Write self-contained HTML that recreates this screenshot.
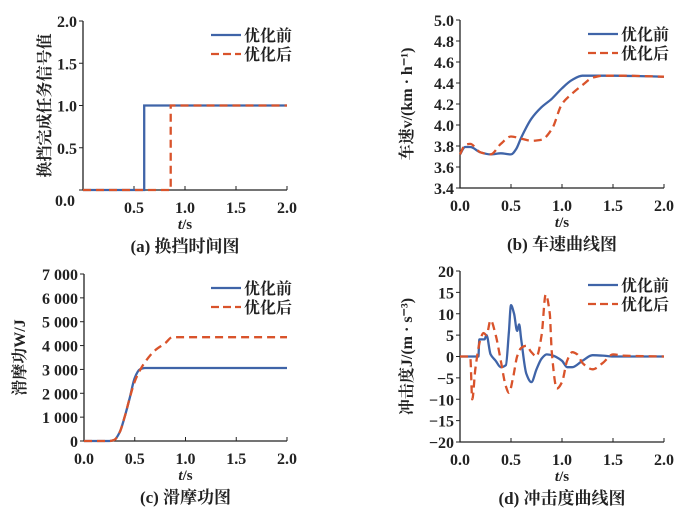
<!DOCTYPE html>
<html><head><meta charset="utf-8"><style>
body{margin:0;background:#fff}
svg{display:block;font-family:"Liberation Serif","Noto Serif CJK SC",serif}
</style></head><body>
<svg id="c" width="700" height="519" viewBox="0 0 700 519"></svg>
<script>
// (a) shift signal
const tA=[0,0.6,0.6,2.0];
const blueA=[0,0,1,1];
const tA2=[0,0.86,0.86,2.0];
const redA=[0,0,1,1];
// (b) vehicle speed
const tB=[0,0.05,0.1,0.2,0.3,0.4,0.5,0.55,0.6,0.7,0.8,0.9,1.0,1.1,1.2,1.3,1.5,2.0];
const blueB=[3.72,3.79,3.79,3.74,3.72,3.73,3.72,3.77,3.88,4.06,4.17,4.25,4.35,4.43,4.47,4.47,4.47,4.46];
const tB2=[0,0.05,0.1,0.2,0.3,0.4,0.5,0.6,0.7,0.8,0.9,1.0,1.1,1.2,1.3,1.4,1.6,2.0];
const redB=[3.72,3.81,3.82,3.74,3.72,3.82,3.89,3.87,3.85,3.86,3.96,4.20,4.30,4.38,4.45,4.47,4.47,4.46];
// (c) friction work
const tC=[0,0.25,0.3,0.35,0.4,0.45,0.5,0.55,0.6,2.0];
const blueC=[0,0,50,350,1000,1800,2650,3000,3060,3060];
const tC2=[0,0.25,0.3,0.35,0.4,0.45,0.5,0.55,0.6,0.7,0.8,0.87,2.0];
const redC=[0,0,50,350,1000,1800,2500,2950,3300,3800,4100,4350,4350];
// (d) jerk
const tD=[0,0.18,0.19,0.24,0.26,0.3,0.35,0.4,0.45,0.48,0.5,0.53,0.56,0.58,0.6,0.65,0.7,0.75,0.8,0.85,0.9,1.0,1.05,1.1,1.2,1.3,1.4,1.5,2.0];
const blueD=[0,0,4,4,5,0.5,-1,-2.5,-2,6,12,10,6,7.5,4,-4,-6,-3,-0.5,0.5,0.3,-1,-2.5,-2.5,-1,0.3,0.2,0,0];
const tD2=[0,0.1,0.12,0.15,0.2,0.23,0.26,0.3,0.35,0.4,0.45,0.48,0.52,0.56,0.6,0.65,0.7,0.75,0.8,0.84,0.88,0.9,0.95,1.0,1.05,1.1,1.15,1.2,1.3,1.4,1.5,1.6,2.0];
const redD=[0,0,-10,-3,4,5.5,5,8.5,5,-1,-7,-8.5,-5,0,2,2.5,1,0,5,14.5,10,1,-7.5,-6,-1,1,0.5,-1.5,-3,-1.5,0.5,0.2,0];
const xTicks=["0.0","0.5","1.0","1.5","2.0"];

const svg=document.getElementById('c');
const NS='http://www.w3.org/2000/svg';
function mk(tag,attrs,parent,text){const e=document.createElementNS(NS,tag);for(const k in attrs)e.setAttribute(k,attrs[k]);if(text!==undefined)e.textContent=text;(parent||svg).appendChild(e);return e;}
const BLUE='#3f64a8',RED='#d9532b';
function curve(pts,smooth){
  if(!smooth)return 'M'+pts.map(p=>p[0].toFixed(1)+','+p[1].toFixed(1)).join('L');
  const n=pts.length,dx=[],s=[],m=[];
  for(let i=0;i<n-1;i++){dx[i]=pts[i+1][0]-pts[i][0];s[i]=(pts[i+1][1]-pts[i][1])/dx[i];}
  m[0]=s[0];m[n-1]=s[n-2];
  for(let i=1;i<n-1;i++){if(s[i-1]*s[i]<=0)m[i]=0;else{const w1=2*dx[i]+dx[i-1],w2=dx[i]+2*dx[i-1];m[i]=(w1+w2)/(w1/s[i-1]+w2/s[i]);}}
  let d='M'+pts[0][0].toFixed(1)+','+pts[0][1].toFixed(1);
  for(let i=0;i<n-1;i++){const h=dx[i]/3;
    d+='C'+(pts[i][0]+h).toFixed(1)+','+(pts[i][1]+m[i]*h).toFixed(1)+' '+(pts[i+1][0]-h).toFixed(1)+','+(pts[i+1][1]-m[i+1]*h).toFixed(1)+' '+pts[i+1][0].toFixed(1)+','+pts[i+1][1].toFixed(1);}
  return d;}
function plot(o){
  const g=mk('g',{});
  
  
  const X=v=>o.x0+(o.x1-o.x0)*v/2, Y=v=>o.y0+(o.y1-o.y0)*(v-o.ymin)/(o.ymax-o.ymin);
  const ax=mk('path',{d:`M${o.x0},${o.y1}V${o.y0}H${o.x1}`,stroke:'#222','stroke-width':1.3,fill:'none'},g);
  
  o.yt.forEach((lab,i)=>{const v=o.ymin+i*o.ystep;const y=Y(v);
    mk('line',{x1:o.x0-4,x2:o.x0,y1:y,y2:y,stroke:'#222','stroke-width':1},g);
    if(lab!==null){const t=mk('text',{x:o.x0-6,y:y+6,'text-anchor':'end','font-size':16,'font-weight':'bold',fill:'#222'},g,lab);
    }});
  xTicks.forEach((lab,i)=>{const x=X(i*0.5);
    mk('line',{x1:x,x2:x,y1:o.y0,y2:o.y0-4,stroke:'#222','stroke-width':1},g);
    if(!(o.skip0&&i==0)){const t=mk('text',{x:x,y:o.y0+23,'text-anchor':'middle','font-size':16,'font-weight':'bold',fill:'#222'},g,lab);
    }});
  if(o.zeroLab){const t=mk('text',{x:o.x0-8,y:o.y0+16,'text-anchor':'end','font-size':16,'font-weight':'bold',fill:'#222'},g,o.zeroLab);}
  const xt=mk('text',{x:(o.x0+o.x1)/2,y:o.y0+39,'text-anchor':'middle','font-size':15,'font-weight':'bold',fill:'#222'},g);
  
  mk('tspan',{'font-style':'italic'},xt,'t');mk('tspan',{},xt,'/s');
  const yt=mk('text',{transform:`translate(${o.ylx},${(o.y0+o.y1)/2}) rotate(-90)`,'text-anchor':'middle','font-size':16,'font-weight':'bold',fill:'#222'},g,o.ylab);
  
  const ti=mk('text',{x:(o.x0+o.x1)/2+o.tdx,y:o.y0+62,'text-anchor':'middle','font-size':17,'font-weight':'bold',fill:'#222'},g,o.title);
  
  const b=mk('path',{d:curve(o.tb.map((t,i)=>[X(t),Y(o.b[i])]),o.smooth),stroke:BLUE,'stroke-width':2.3,fill:'none'},g);
  
  const r=mk('path',{d:curve(o.tr.map((t,i)=>[X(t),Y(o.r[i])]),o.smooth),stroke:RED,'stroke-width':2.3,fill:'none','stroke-dasharray':'8,5'},g);
  
  const lg=mk('g',{},g);
  const lx=o.x1-76,ly=o.y1+14;
  mk('line',{x1:lx,x2:lx+30,y1:ly,y2:ly,stroke:BLUE,'stroke-width':2.3},lg);
  mk('text',{x:lx+33,y:ly+6,'font-size':16,'font-weight':'bold',fill:'#222'},lg,'优化前');
  mk('line',{x1:lx,x2:lx+30,y1:ly+19,y2:ly+19,stroke:RED,'stroke-width':2.3,'stroke-dasharray':'8,4'},lg);
  mk('text',{x:lx+33,y:ly+25,'font-size':16,'font-weight':'bold',fill:'#222'},lg,'优化后');
}
plot({name:'shift-time-chart',x0:83,x1:287,y0:190,y1:21,ymin:0,ymax:2,ystep:0.5,yt:[null,'0.5','1.0','1.5','2.0'],zeroLab:'0.0',skip0:true,
  ylx:50,ylab:'换挡完成任务信号值',title:'(a) 换挡时间图',tdx:0,tb:tA,b:blueA,tr:tA2,r:redA,smooth:false});
plot({name:'speed-chart',x0:460,x1:664,y0:188,y1:20,ymin:3.4,ymax:5.0,ystep:0.2,yt:['3.4','3.6','3.8','4.0','4.2','4.4','4.6','4.8','5.0'],
  ylx:412,ylab:'车速v/(km · h⁻¹)',title:'(b) 车速曲线图',tdx:0,tb:tB,b:blueB,tr:tB2,r:redB,smooth:true});
plot({name:'friction-work-chart',x0:84,x1:287,y0:441,y1:274,ymin:0,ymax:7000,ystep:1000,yt:['0','1 000','2 000','3 000','4 000','5 000','6 000','7 000'],
  ylx:25,ylab:'滑摩功W/J',title:'(c) 滑摩功图',tdx:0,tb:tC,b:blueC,tr:tC2,r:redC,smooth:true});
plot({name:'jerk-chart',x0:460,x1:664,y0:442,y1:271,ymin:-20,ymax:20,ystep:5,yt:['−20','−15','−10','−5','0','5','10','15','20'],
  ylx:412,ylab:'冲击度J/(m · s⁻³)',title:'(d) 冲击度曲线图',tdx:0,tb:tD,b:blueD,tr:tD2,r:redD,smooth:true});
</script>
</body></html>
